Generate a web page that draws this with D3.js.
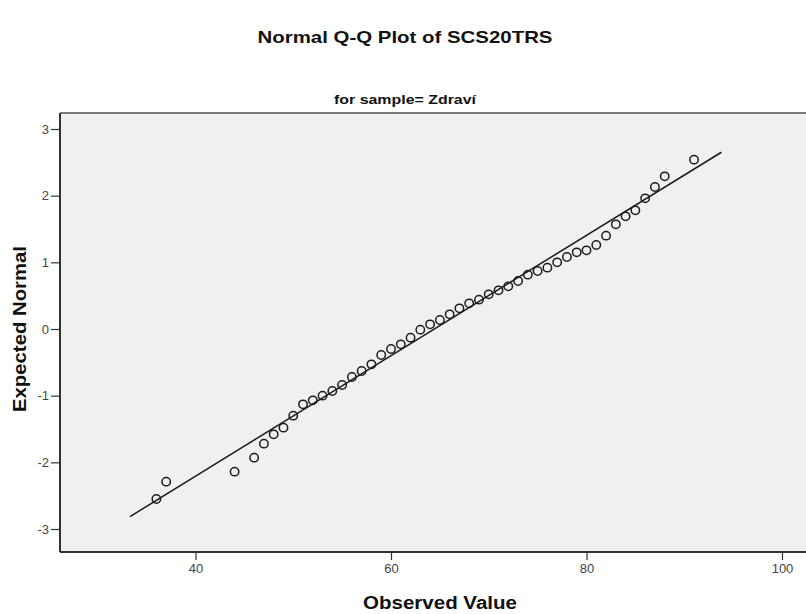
<!DOCTYPE html>
<html>
<head>
<meta charset="utf-8">
<script src="https://cdn.jsdelivr.net/npm/d3@7"></script>
<style>
  html, body { margin: 0; padding: 0; background: #ffffff; }
  svg { display: block; }
</style>
</head>
<body>
<svg id="chart" width="806" height="614"></svg>
<script>
// Distinct observed SCS20TRS values (sample = Zdraví)
const observed = [36, 37, 44, 46, 47, 48, 49, 50, 51, 52, 53, 54, 55, 56, 57, 58, 59, 60,
  61, 62, 63, 64, 65, 66, 67, 68, 69, 70, 71, 72, 73, 74, 75, 76, 77, 78, 79, 80, 81, 82,
  83, 84, 85, 86, 87, 88, 91];
// Expected normal quantile for each observed value
const expectedNormal = [-2.55, -2.29, -2.14, -1.93, -1.72, -1.58, -1.48, -1.30, -1.13, -1.07,
  -1.00, -0.93, -0.84, -0.72, -0.63, -0.53, -0.39, -0.30, -0.23, -0.13, -0.01, 0.07, 0.135,
  0.22, 0.31, 0.385, 0.44, 0.52, 0.58, 0.64, 0.72, 0.815, 0.87, 0.92, 1.00, 1.08, 1.15, 1.18,
  1.26, 1.40, 1.57, 1.69, 1.78, 1.96, 2.13, 2.29, 2.54];
// Reference line: sample mean and standard deviation, drawn over this range
const refMean = 64.45;
const refSD = 11.07;
const refRange = [33.3, 93.8];
// Axis ticks
const xTicks = [40, 60, 80, 100];
const yTicks = [-3, -2, -1, 0, 1, 2, 3];

const svg = d3.select("#chart");
const plot = { left: 60, right: 820, top: 113, bottom: 552 };

const x = d3.scaleLinear().domain([40, 100]).range([195.5, 782]);
const y = d3.scaleLinear().domain([-3, 3]).range([529, 129]);

const font = "'Liberation Sans', Arial, sans-serif";
const plainNumber = d => String(d);

// Plot background
svg.append("rect")
  .attr("x", plot.left).attr("y", plot.top)
  .attr("width", plot.right - plot.left).attr("height", plot.bottom - plot.top)
  .attr("fill", "#f0f0f0");

// Top frame line
svg.append("line")
  .attr("x1", plot.left).attr("x2", plot.right)
  .attr("y1", plot.top).attr("y2", plot.top)
  .attr("stroke", "#7a7a7a").attr("stroke-width", 2);

// Reference line
const refLine = refRange.map(v => [v, (v - refMean) / refSD]);
svg.append("path")
  .datum(refLine)
  .attr("d", d3.line().x(d => x(d[0])).y(d => y(d[1])))
  .attr("fill", "none")
  .attr("stroke", "#1a1a1a")
  .attr("stroke-width", 1.5);

// Points
const points = observed.map((v, i) => ({ v, z: expectedNormal[i] }));
svg.append("g")
  .selectAll("circle")
  .data(points)
  .join("circle")
  .attr("cx", d => x(d.v))
  .attr("cy", d => y(d.z))
  .attr("r", 4.2)
  .attr("fill", "none")
  .attr("stroke", "#1c1c1c")
  .attr("stroke-width", 1.5);

// Y axis
const yAxis = svg.append("g")
  .attr("transform", `translate(${plot.left},0)`)
  .call(d3.axisLeft(y).tickValues(yTicks).tickSize(9).tickPadding(2).tickFormat(plainNumber));
yAxis.select(".domain").remove();
yAxis.append("line")
  .attr("x1", 0).attr("x2", 0).attr("y1", plot.top).attr("y2", plot.bottom)
  .attr("stroke", "#333").attr("stroke-width", 2);

// X axis
const xAxis = svg.append("g")
  .attr("transform", `translate(0,${plot.bottom})`)
  .call(d3.axisBottom(x).tickValues(xTicks).tickSize(8).tickPadding(4).tickFormat(plainNumber));
xAxis.select(".domain").remove();
xAxis.append("line")
  .attr("x1", plot.left).attr("x2", plot.right).attr("y1", 0).attr("y2", 0)
  .attr("stroke", "#333").attr("stroke-width", 2);

svg.selectAll(".tick line").attr("stroke", "#333").attr("stroke-width", 1.2);
svg.selectAll(".tick text")
  .attr("font-family", font)
  .attr("font-size", 13)
  .attr("fill", "#444");

// Titles
svg.append("text")
  .attr("x", 405).attr("y", 43)
  .attr("text-anchor", "middle")
  .attr("font-family", font).attr("font-weight", "bold").attr("font-size", 17)
  .attr("textLength", 295).attr("lengthAdjust", "spacingAndGlyphs")
  .attr("fill", "#111")
  .text("Normal Q-Q Plot of SCS20TRS");

svg.append("text")
  .attr("x", 405).attr("y", 104)
  .attr("text-anchor", "middle")
  .attr("font-family", font).attr("font-weight", "bold").attr("font-size", 12.5)
  .attr("textLength", 142).attr("lengthAdjust", "spacingAndGlyphs")
  .attr("fill", "#111")
  .text("for sample= Zdraví");

svg.append("text")
  .attr("x", 440).attr("y", 609)
  .attr("text-anchor", "middle")
  .attr("font-family", font).attr("font-weight", "bold").attr("font-size", 18)
  .attr("textLength", 154).attr("lengthAdjust", "spacingAndGlyphs")
  .attr("fill", "#111")
  .text("Observed Value");

svg.append("text")
  .attr("transform", "translate(26,329) rotate(-90)")
  .attr("text-anchor", "middle")
  .attr("font-family", font).attr("font-weight", "bold").attr("font-size", 18)
  .attr("textLength", 166).attr("lengthAdjust", "spacingAndGlyphs")
  .attr("fill", "#111")
  .text("Expected Normal");
</script>
</body>
</html>
